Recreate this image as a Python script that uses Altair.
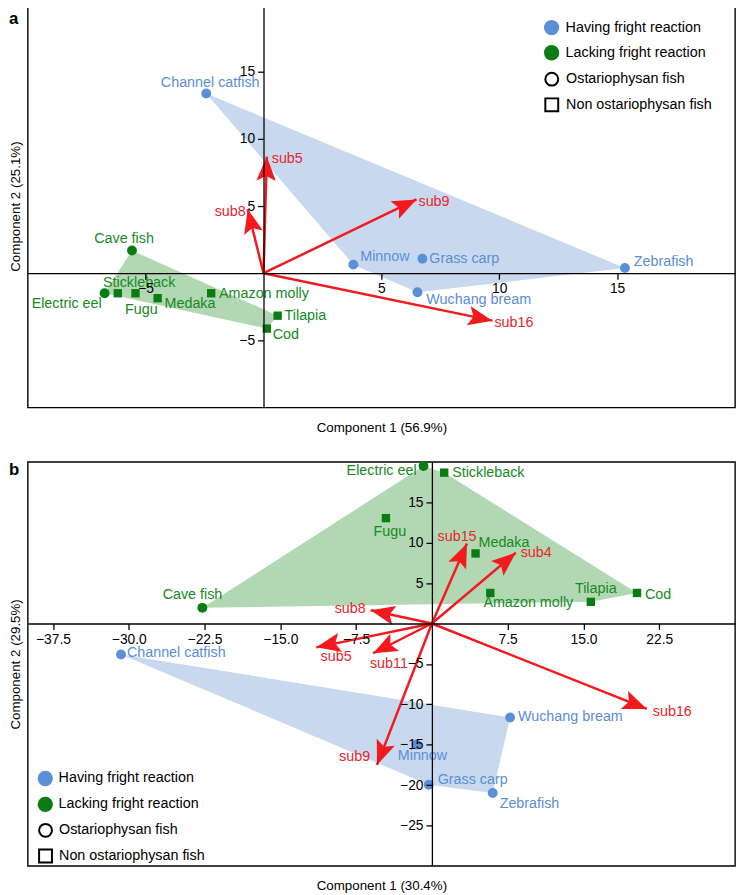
import math
import altair as alt
import pandas as pd

# ---------------- data ----------------
FISH = ["Channel catfish", "Minnow", "Grass carp", "Wuchang bream", "Zebrafish",
        "Cave fish", "Electric eel", "Stickleback", "Fugu", "Medaka",
        "Amazon molly", "Tilapia", "Cod"]
REACTION = ["Having fright reaction"] * 5 + ["Lacking fright reaction"] * 8
GROUP = ["Ostariophysan fish"] * 7 + ["Non ostariophysan fish"] * 6

A_PC1 = [-2.43, 3.81, 6.74, 6.53, 15.33, -5.58, -6.74, -6.18, -5.43, -4.49, -2.22, 0.60, 0.14]
A_PC2 = [13.38, 0.64, 1.08, -1.42, 0.39, 1.69, -1.49, -1.49, -1.49, -1.86, -1.49, -3.16, -4.12]
B_PC1 = [-30.77, -1.52, -0.31, 7.74, 6.02, -22.72, -0.83, 1.22, -4.55, 4.32, 5.78, 15.73, 20.30]
B_PC2 = [-3.84, -14.97, -19.95, -11.63, -20.97, 1.94, 19.49, 18.67, 13.04, 8.67, 3.78, 2.68, 3.78]

A_VARS = ["sub5", "sub8", "sub9", "sub16"]
A_LOAD1 = [0.14, -0.67, 6.49, 9.71]
A_LOAD2 = [8.68, 4.76, 5.49, -3.53]
B_VARS = ["sub15", "sub4", "sub8", "sub5", "sub11", "sub9", "sub16"]
B_LOAD1 = [3.47, 8.30, -6.06, -11.44, -5.82, -5.43, 21.28]
B_LOAD2 = [9.90, 8.76, 1.63, -2.95, -3.68, -17.50, -10.57]

A_HULLS = {
    "Having fright reaction": ["Channel catfish", "Zebrafish", "Wuchang bream", "Minnow"],
    "Lacking fright reaction": ["Cave fish", "Tilapia", "Cod", "Electric eel"],
}
B_HULLS = {
    "Having fright reaction": ["Channel catfish", "Wuchang bream", "Zebrafish", "Grass carp"],
    "Lacking fright reaction": ["Cave fish", "Electric eel", "Stickleback", "Cod", "Tilapia"],
}

REACTIONS = ["Having fright reaction", "Lacking fright reaction"]
GROUPS = ["Ostariophysan fish", "Non ostariophysan fish"]

# ---------------- styling / annotation placement ----------------
FONT = "Liberation Sans"
LAB_SIZE = 14.5
BLUE, GREEN = "#5b8fd6", "#0a7d12"
BLUE_TXT, GREEN_TXT = "#5a8ed5", "#168a1e"
HULL = {"Having fright reaction": "#c8d9ef", "Lacking fright reaction": "#b2d8b3"}
RED, RED_TXT = "#f21a1f", "#e8262b"
ARROW_PATH = "M0,0 L0.4,1 L0,0.8 L-0.4,1 Z"

# (align, dx, dy) in pixels
A_PT_LAB = {
    "Channel catfish": ("center", 4, -11), "Minnow": ("left", 7, -8),
    "Grass carp": ("left", 7, 0), "Wuchang bream": ("left", 9, 8),
    "Zebrafish": ("left", 9, -6), "Cave fish": ("center", -8, -12),
    "Electric eel": ("right", -3, 11), "Stickleback": ("left", -15, -10),
    "Fugu": ("center", 6, 17), "Medaka": ("left", 7, 6),
    "Amazon molly": ("left", 8, 1), "Tilapia": ("left", 7, 0), "Cod": ("left", 6, 7),
}
A_VAR_LAB = {"sub5": ("left", 5, 2), "sub8": ("right", -2, 3),
             "sub9": ("left", 2, 3), "sub16": ("left", 2, 2)}
B_PT_LAB = {
    "Electric eel": ("right", -7, 5), "Stickleback": ("left", 8, 0),
    "Fugu": ("center", 4, 14), "Medaka": ("left", 3, -11),
    "Amazon molly": ("left", -7, 10), "Tilapia": ("center", 5, -13),
    "Cod": ("left", 8, 2), "Cave fish": ("center", -10, -13),
    "Channel catfish": ("left", 6, -2), "Wuchang bream": ("left", 8, 0),
    "Minnow": ("left", -19, 12), "Grass carp": ("left", 9, -5),
    "Zebrafish": ("left", 7, 11),
}
B_VAR_LAB = {"sub15": ("center", -10, -7), "sub4": ("left", 5, 0),
             "sub8": ("right", -5, -1), "sub5": ("center", 20, 10),
             "sub11": ("center", 16, 11), "sub9": ("right", -7, -8),
             "sub16": ("left", 6, 3)}

W = 716


def with_lab(df, key, lab):
    df["align"] = [lab[k][0] for k in df[key]]
    df["dx"] = [lab[k][1] for k in df[key]]
    df["dy"] = [lab[k][2] for k in df[key]]
    return df


def panel(letter, letter_y, H, pc1, pc2, vnames, l1, l2, hulls, xdom, ydom, xticks, yticks,
          xfmt, xtitle, ytitle, pt_lab, var_lab, leg):
    sx = W / (xdom[1] - xdom[0])
    sy = H / (ydom[1] - ydom[0])
    x0px = (0 - xdom[0]) * sx
    y0px = (ydom[1] - 0) * sy
    xs = alt.Scale(domain=xdom, nice=False, zero=False)
    ys = alt.Scale(domain=ydom, nice=False, zero=False)

    pts = pd.DataFrame({"fish": FISH, "reaction": REACTION, "group": GROUP,
                        "pc1": pc1, "pc2": pc2})
    pts = with_lab(pts, "fish", pt_lab)
    vars_df = pd.DataFrame({"var": vnames, "l1": l1, "l2": l2})
    vars_df["angle"] = [(math.degrees(math.atan2(a * sx, b * sy)) + 360) % 360
                        for a, b in zip(l1, l2)]
    vars_df = with_lab(vars_df, "var", var_lab)

    layers = []
    first = True
    for r, names in hulls.items():
        rows = [{"order": i, "hx": pc1[FISH.index(f)], "hy": pc2[FISH.index(f)]}
                for i, f in enumerate(names)]
        if first:
            xa = alt.Axis(title=xtitle, domain=False, ticks=False, labels=False, grid=False,
                          orient="bottom", titlePadding=13, titleFont=FONT, titleFontSize=13.5,
                          titleFontWeight="normal", titleColor="black")
            ya = alt.Axis(title=ytitle, domain=False, ticks=False, labels=False, grid=False,
                          orient="left", titlePadding=5, titleFont=FONT, titleFontSize=13.5,
                          titleFontWeight="normal", titleColor="black")
        else:
            xa = None
            ya = None
        layers.append(
            alt.Chart(pd.DataFrame(rows)).mark_line(
                fill=HULL[r], stroke=HULL[r], strokeWidth=0, interpolate="linear"
            ).encode(
                x=alt.X("hx:Q", scale=xs, axis=xa),
                y=alt.Y("hy:Q", scale=ys, axis=ya),
                order="order:Q",
            )
        )
        first = False

    base_v = alt.Chart(vars_df)
    layers.append(base_v.mark_rule(color=RED, strokeWidth=2.5).encode(
        x=alt.X("l1:Q", scale=xs, axis=None),
        y=alt.Y("l2:Q", scale=ys, axis=None),
        x2=alt.X2Datum(0), y2=alt.Y2Datum(0),
    ))
    layers.append(base_v.mark_point(shape=ARROW_PATH, filled=True, color=RED, size=2400,
                                    opacity=1, strokeWidth=0).encode(
        x=alt.X("l1:Q", scale=xs, axis=None),
        y=alt.Y("l2:Q", scale=ys, axis=None),
        angle=alt.Angle("angle:Q", scale=None),
    ))

    base_p = alt.Chart(pts)
    layers.append(base_p.mark_point(filled=True, opacity=1, strokeWidth=0).encode(
        x=alt.X("pc1:Q", scale=xs,
                axis=alt.Axis(title=None, values=xticks, format=xfmt, offset=-(H - y0px),
                              orient="bottom", zindex=1, grid=False)),
        y=alt.Y("pc2:Q", scale=ys,
                axis=alt.Axis(title=None, values=yticks, offset=-x0px,
                              orient="left", zindex=1, grid=False)),
        color=alt.Color("reaction:N", scale=alt.Scale(domain=REACTIONS, range=[BLUE, GREEN]),
                        legend=alt.Legend(title=None, orient="none", legendX=leg[0][0],
                                          legendY=leg[0][1], symbolType="circle",
                                          symbolSize=240, symbolStrokeWidth=0,
                                          rowPadding=leg[0][2], labelOffset=leg[0][3],
                                          padding=0)),
        shape=alt.Shape("group:N", scale=alt.Scale(domain=GROUPS, range=["circle", "square"]),
                        legend=alt.Legend(title=None, orient="none", legendX=leg[1][0],
                                          legendY=leg[1][1], symbolSize=170,
                                          symbolFillColor="white", symbolStrokeColor="black",
                                          symbolStrokeWidth=2, rowPadding=leg[1][2],
                                          labelOffset=leg[1][3], padding=0)),
        size=alt.condition(alt.datum.group == "Ostariophysan fish", alt.value(100), alt.value(72)),
    ))

    layers.append(base_p.mark_text(
        font=FONT, fontSize=LAB_SIZE, baseline="middle",
        align=alt.ExprRef(expr="datum.align"),
        dx=alt.ExprRef(expr="datum.dx"), dy=alt.ExprRef(expr="datum.dy"),
    ).encode(
        x=alt.X("pc1:Q", scale=xs, axis=None),
        y=alt.Y("pc2:Q", scale=ys, axis=None),
        text="fish:N",
        color=alt.condition(alt.datum.reaction == "Having fright reaction",
                            alt.value(BLUE_TXT), alt.value(GREEN_TXT)),
    ))
    layers.append(base_v.mark_text(
        font=FONT, fontSize=LAB_SIZE, baseline="middle", color=RED_TXT,
        align=alt.ExprRef(expr="datum.align"),
        dx=alt.ExprRef(expr="datum.dx"), dy=alt.ExprRef(expr="datum.dy"),
    ).encode(
        x=alt.X("l1:Q", scale=xs, axis=None),
        y=alt.Y("l2:Q", scale=ys, axis=None),
        text="var:N",
    ))
    layers.append(alt.Chart(pd.DataFrame({"t": [letter]})).mark_text(
        font=FONT, fontSize=17, fontWeight="bold", align="left", baseline="top", color="black"
    ).encode(text="t:N", x=alt.value(-19), y=alt.value(letter_y)))

    return alt.layer(*layers).resolve_axis(x="independent", y="independent").properties(
        width=W, height=H)


pa = panel("a", 7, 408, A_PC1, A_PC2, A_VARS, A_LOAD1, A_LOAD2, A_HULLS,
           [-10, 20], [-10, 20], [-5, 5, 10, 15], [-5, 5, 10, 15], "d",
           "Component 1 (56.9%)", "Component 2 (25.1%)", A_PT_LAB, A_VAR_LAB,
           [(522.3, 15.3, 9.5, 6.2), (522.5, 67.5, 4, 6.5)])
pb = panel("b", 0, 409, B_PC1, B_PC2, B_VARS, B_LOAD1, B_LOAD2, B_HULLS,
           [-40, 30], [-30, 20], [-37.5, -30, -22.5, -15, -7.5, 7.5, 15, 22.5],
           [-25, -20, -15, -10, -5, 5, 10, 15], ".1f",
           "Component 1 (30.4%)", "Component 2 (29.5%)", B_PT_LAB, B_VAR_LAB,
           [(9.75, 312.5, 10.2, 5.5), (10, 365, 4, 5.7)])

chart = alt.vconcat(pa, pb, spacing=25).resolve_scale(
    color="independent", shape="independent"
).resolve_legend(
    color="independent", shape="independent"
).configure_view(
    stroke="black", strokeWidth=1.4
).configure_axis(
    labelFont=FONT, labelFontSize=14, labelColor="black", tickColor="black",
    domainColor="black", domainWidth=1.3, tickWidth=1.3, tickSize=6, labelPadding=3,
    grid=False
).configure_legend(
    labelFont=FONT, labelFontSize=LAB_SIZE, labelColor="black"
).properties(padding={"top": -10, "left": 0, "right": 0, "bottom": 0})

chart.save("out.html", embed_options={"renderer": "svg", "actions": False})
